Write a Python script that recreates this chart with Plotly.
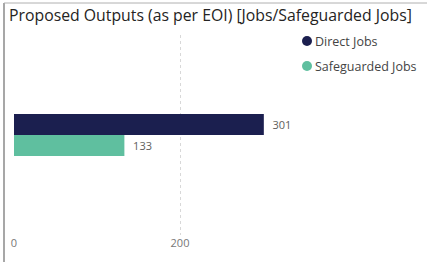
import plotly.graph_objects as go

categories = [""]
series_names = ["Direct Jobs", "Safeguarded Jobs"]
direct_jobs = [301]
safeguarded_jobs = [133]
colors = ["#1b1f4f", "#5fbf9f"]
tick_vals = [0, 200]
tick_text = ["0", "200"]

W, H = 427, 262
L, R, T, B = 14, 127, 35, 27
pw = W - L - R
ph = H - T - B


def px(xp):
    return (xp - L) / pw


def py(yp):
    return (H - B - yp) / ph


fig = go.Figure()
for name, vals, col in [(series_names[0], direct_jobs, colors[0]),
                        (series_names[1], safeguarded_jobs, colors[1])]:
    fig.add_trace(go.Bar(
        y=categories, x=vals, orientation="h", name=name,
        marker=dict(color=col, line=dict(width=0)),
        texttemplate="  %{x}", textposition="outside",
        textfont=dict(color="#605e5c", size=11, family="Open Sans"),
        cliponaxis=False, showlegend=False,
    ))

shapes = [
    dict(type="line", xref="paper", yref="paper",
         x0=px(4), x1=px(4), y0=py(3), y1=py(H + 2),
         line=dict(color="#8a8a8a", width=1.5)),
    dict(type="line", xref="paper", yref="paper",
         x0=px(4), x1=px(W + 2), y0=py(3), y1=py(3),
         line=dict(color="#b0b0b0", width=1)),
]
annotations = []
for i, (name, col) in enumerate(zip(series_names, colors)):
    yc = 41 + 25 * i
    shapes.append(dict(type="circle", xref="paper", yref="paper",
                       xsizemode="pixel", ysizemode="pixel",
                       xanchor=px(307), yanchor=py(yc),
                       x0=-5, x1=5, y0=-5, y1=5,
                       fillcolor=col, line=dict(width=0)))
    annotations.append(dict(text=name, xref="paper", yref="paper",
                            x=px(313), y=py(yc), xanchor="left", yanchor="middle",
                            showarrow=False,
                            font=dict(family="Open Sans", size=12.5, color="#444444")))

fig.update_layout(
    width=W, height=H,
    margin=dict(l=L, r=R, t=T, b=B, autoexpand=False),
    paper_bgcolor="white", plot_bgcolor="white",
    barmode="group", bargap=0.79, bargroupgap=0,
    showlegend=False,
    title=dict(text="Proposed Outputs (as per EOI) [Jobs/Safeguarded Jobs]",
               x=9 / W, xanchor="left", y=1 - 15 / H, yanchor="middle",
               font=dict(family="Open Sans", size=15.8, color="#252423")),
    xaxis=dict(range=[0, pw / (166 / 200)], tickvals=tick_vals, ticktext=tick_text,
               showgrid=True, gridcolor="#d8d8d8", griddash="dot", gridwidth=1,
               zeroline=False, showline=False, ticks="",
               tickfont=dict(family="Open Sans", size=11, color="#777777")),
    yaxis=dict(range=[-0.5, 0.5], showticklabels=False, showgrid=False,
               zeroline=False, showline=False, autorange="reversed"),
    shapes=shapes,
    annotations=annotations,
)

fig.write_html("out.html", config={"displayModeBar": False},
               post_script="document.body.style.margin='0px';document.body.style.overflow='hidden';")
